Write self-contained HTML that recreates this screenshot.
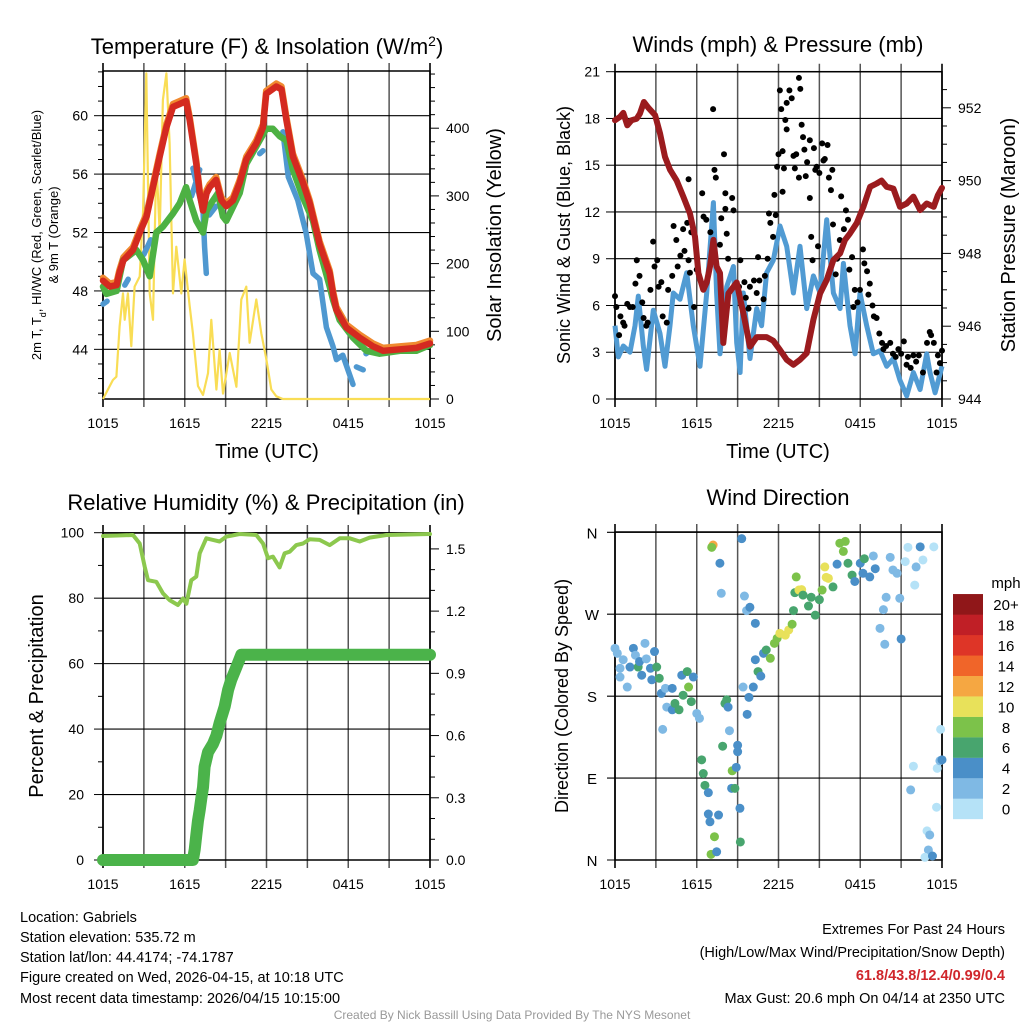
<!DOCTYPE html>
<html><head><meta charset="utf-8"><style>
html,body{margin:0;padding:0;background:#fff;}
svg{display:block;font-family:"Liberation Sans",Arial,sans-serif;}
</style></head><body>
<svg id="fig" width="1024" height="1024" viewBox="0 0 1024 1024" xmlns="http://www.w3.org/2000/svg">
<rect width="1024" height="1024" fill="#fff"/>
<g id="layer"></g>
<text x="267" y="54" font-size="22" text-anchor="middle">Temperature (F) &amp; Insolation (W/m<tspan baseline-shift="super" font-size="14">2</tspan>)</text>
<text x="778" y="52" font-size="22" text-anchor="middle">Winds (mph) &amp; Pressure (mb)</text>
<text x="266" y="510" font-size="22" text-anchor="middle">Relative Humidity (%) &amp; Precipitation (in)</text>
<text x="778" y="505" font-size="22" text-anchor="middle">Wind Direction</text>
<g font-size="13" text-anchor="middle">
<text transform="translate(41,235) rotate(-90)">2m T, T<tspan baseline-shift="sub" font-size="9">d</tspan>, HI/WC (Red, Green, Scarlet/Blue)</text>
<text transform="translate(58,235) rotate(-90)">&amp; 9m T (Orange)</text>
</g>
<text transform="translate(501,235) rotate(-90)" font-size="20" text-anchor="middle">Solar Insolation (Yellow)</text>
<text transform="translate(570,235) rotate(-90)" font-size="18" text-anchor="middle">Sonic Wind &amp; Gust (Blue, Black)</text>
<text transform="translate(1015,235) rotate(-90)" font-size="20" text-anchor="middle">Station Pressure (Maroon)</text>
<text transform="translate(43,696) rotate(-90)" font-size="20" text-anchor="middle">Percent &amp; Precipitation</text>
<text transform="translate(568,696) rotate(-90)" font-size="18" text-anchor="middle">Direction (Colored By Speed)</text>
<text x="267" y="458" font-size="20" text-anchor="middle">Time (UTC)</text>
<text x="778" y="458" font-size="20" text-anchor="middle">Time (UTC)</text>
<text x="1006" y="588" font-size="15" text-anchor="middle">mph</text>
<g font-size="14.5">
<text x="20" y="922">Location: Gabriels</text>
<text x="20" y="942">Station elevation: 535.72 m</text>
<text x="20" y="962">Station lat/lon: 44.4174; -74.1787</text>
<text x="20" y="982">Figure created on Wed, 2026-04-15, at 10:18 UTC</text>
<text x="20" y="1003">Most recent data timestamp: 2026/04/15 10:15:00</text>
</g>
<g font-size="14.5" text-anchor="end">
<text x="1005" y="934">Extremes For Past 24 Hours</text>
<text x="1005" y="957">(High/Low/Max Wind/Precipitation/Snow Depth)</text>
<text x="1005" y="980" fill="#d0262b" font-weight="bold">61.8/43.8/12.4/0.99/0.4</text>
<text x="1005" y="1003">Max Gust: 20.6 mph On 04/14 at 2350 UTC</text>
</g>
<text x="512" y="1019" font-size="12" fill="#999" text-anchor="middle">Created By Nick Bassill Using Data Provided By The NYS Mesonet</text>
</svg>
<script>
// ---------- data ----------
const xTickLabels = ["1015","1615","2215","0415","1015"];
const tempTicks = [44,48,52,56,60];
const solarTicks = [0,100,200,300,400];
const windTicks = [0,3,6,9,12,15,18,21];
const presTicks = [944,946,948,950,952];
const rhTicks = [0,20,40,60,80,100];
const precipTicks = ["0.0","0.3","0.6","0.9","1.2","1.5"];
const dirLabels = ["N","E","S","W","N"];
const speedBins = ["0","2","4","6","8","10","12","14","16","18","20+"];

const tempRedH = [0,0.5,1,1.2,1.5,2.2,2.7,3.2,3.67,4.16,4.65,5.14,5.63,6.1,6.36,6.85,7.1,7.34,7.6,7.83,8.3,8.69,9.05,9.54,10.03,10.52,11.25,11.74,11.98,12.72,13.1,13.46,13.94,14.68,15.17,15.9,16.64,16.88,17.13,17.86,18.84,19.82,20.56,21.8,23,24];
const tempRedV = [48.7,48.3,48.4,49.2,50.1,50.8,52,53.1,55.1,57.2,59.2,60.6,60.8,61,59.7,56.7,54.7,53.5,54.7,55.1,55.6,54.2,53.8,54.2,55.4,57,58.1,59.2,61.5,62,61.8,59.7,57.2,55.4,54,51.2,49.2,47.8,46.7,45.5,44.8,44.2,43.9,44.0,44.1,44.4];
const tempGreenH = [0,0.25,1,1.47,2.45,2.94,3.43,3.91,4.4,5.14,5.63,6.1,6.36,6.85,7.34,7.6,8.07,8.44,8.8,9.05,10.03,10.52,11.25,11.98,12.47,12.96,13.46,13.94,14.68,15.41,15.9,16.64,16.88,17.37,18.35,19.33,20.3,21.8,23,24];
const tempGreenV = [48.3,47.8,48.0,50.1,50.8,50.1,49.0,52.0,52.4,53.3,54.0,55.1,54.2,52.8,52.0,53.5,54.2,54.7,53.1,52.8,54.7,56.7,57.9,59.1,59.1,58.6,58.3,56.3,54.4,52.8,50.8,48.3,47.4,46.0,44.8,43.9,43.7,43.9,43.9,44.3];
const tempBlueH = [0,0.3,null,1,null,1.6,1.85,null,3,3.5,null,6.5,7.1,null,6.6,7.34,7.46,7.58,null,7.8,8.3,null,8.8,null,11.5,11.74,null,13.2,13.6,14.3,14.9,15.41,15.9,16.4,16.88,17.13,17.6,18.35,null,18.6,19.1,null,19.3,19.6,null];
const tempBlueV = [47.1,47.3,null,47.4,null,48.4,48.8,null,50.5,51.5,null,54.5,56.3,null,56.4,53.5,51,49.2,null,53.2,53.8,null,52,null,57.4,57.6,null,58.9,55.8,54.2,52,49.2,48.8,45.5,44.2,43.3,43.6,41.6,null,42.8,42.6,null,43.7,43.9,null];
const solarH = [0,0.73,0.98,1.22,1.47,1.59,1.83,2.08,2.32,2.69,2.94,3.18,3.43,3.67,3.91,4.16,4.4,4.65,4.89,5.14,5.38,5.75,5.99,6.36,6.6,6.97,7.34,7.71,7.95,8.32,8.56,8.81,9.3,9.79,10.15,10.52,10.76,11.25,11.62,11.98,12.35,12.72,13.2,13.7,24];
const solarV = [0,28,33,107,156,117,156,78,166,181,279,481,156,117,353,245,442,481,378,156,225,156,206,137,97,19,6,38,117,14,73,8,68,18,147,166,83,147,97,60,14,4,0,0,0];

const windH = [0,0.24,0.61,1.1,1.47,1.71,2.08,2.32,2.81,3.3,3.67,4.04,4.28,4.77,5.26,5.75,6.24,6.73,7.22,7.46,7.71,8.2,8.69,8.93,9.18,9.42,9.91,10.4,10.76,11.13,11.62,12.11,12.6,13.09,13.58,14.07,14.56,15.05,15.54,16.03,16.52,16.76,17.25,17.62,17.98,18.47,18.96,19.45,19.94,20.43,20.92,21.41,21.9,22.39,22.88,23.12,23.49,24];
const windV = [4.7,2.7,3.4,3.0,4.7,6.6,3.4,1.9,5.7,4.2,2.1,4.7,6.8,6.4,8.1,4.7,2.1,6.8,12.6,6.8,2.9,7.2,8.5,3.6,1.7,6.8,2.6,5.8,4.7,8.1,8.9,11.1,9.8,6.8,9.8,5.8,7.9,6.8,11.5,6.8,5.8,8.7,4.7,2.9,6.8,4.7,2.9,3.1,2.1,2.6,1.2,0.2,1.7,0.6,2.9,1.7,0.4,2.1];
const gustH = [0,0.1,0.4,0.3,0.6,0.7,0.9,1.1,1.3,1.5,1.6,1.8,2.0,2.1,2.3,2.4,2.6,2.8,2.9,3.1,3.2,3.4,3.5,3.8,3.9,4.2,4.3,4.5,4.6,4.8,5.0,5.1,5.3,5.4,5.5,5.6,5.4,5.8,6.0,6.4,6.5,6.7,7.0,7.2,7.3,7.4,7.7,7.8,8.0,8.1,8.1,8.2,8.3,8.6,8.7,9.1,9.2,9.5,9.6,9.8,9.9,10.2,10.4,10.5,10.6,10.9,11.0,11.2,11.3,11.4,11.6,11.7,11.8,11.9,12.0,12.1,12.2,12.3,12.3,12.4,12.5,12.6,12.6,12.8,12.97,13.1,13.2,13.3,13.5,13.5,13.6,13.7,13.8,13.9,14.0,14.1,14.3,14.3,14.4,14.5,14.6,14.7,14.8,14.9,15.0,15.2,15.3,15.4,15.6,15.7,15.85,15.95,16.0,16.2,16.3,16.5,16.6,16.8,16.95,17.1,17.2,17.4,17.5,17.6,17.8,17.98,18.2,18.3,18.5,18.6,18.7,18.9,19.0,19.2,19.4,19.6,19.7,19.9,20.2,20.4,20.6,20.8,21.0,21.2,21.4,21.5,21.7,21.9,22.1,22.3,22.6,22.9,23.1,23.2,23.4,23.6,23.7,23.85,24.0];
const gustV = [6.6,5.9,5.3,4.1,4.9,4.7,6.1,5.9,5.9,7.4,8.9,7.9,6.2,5.2,4.7,4.9,7.0,10.1,8.5,8.9,7.2,7.5,5.3,4.9,7.0,7.9,11.1,10.2,8.5,9.2,10.9,9.5,11.3,8.9,8.1,10.7,14.1,5.9,8.3,13.2,11.7,11.5,10.7,18.6,14.7,14.2,9.9,11.6,15.7,12.2,13.2,10.6,9.0,12.9,12.1,7.2,8.9,7.5,6.5,5.8,7.2,7.6,6.8,9.1,7.6,6.4,7.9,9.0,11.9,11.3,10.4,13.1,11.8,14.9,15.7,19.8,18.6,15.9,13.3,14.8,17.9,19.0,17.3,19.8,19.3,15.6,14.8,15.7,14.2,20.6,19.9,17.6,16.8,16.0,14.3,15.2,16.6,12.9,10.4,8.9,16.1,14.7,14.9,9.8,14.5,16.4,15.3,15.4,16.3,14.2,13.4,14.7,11.2,8.0,9.0,10.2,13.0,10.9,12.1,11.5,8.3,9.1,5.9,7.0,6.2,7.0,9.6,8.7,8.2,6.7,7.4,6.0,5.3,5.2,4.2,3.6,3.2,3.4,3.6,2.9,2.7,3.2,2.9,3.7,2.2,2.7,2.0,2.8,2.4,2.8,1.7,3.6,4.3,4.1,3.6,1.7,2.8,2.3,3.1];
const presH = [0,0.37,0.61,0.9,1.22,1.59,1.83,2.12,2.45,2.94,3.3,3.67,4.04,4.53,5.01,5.5,5.87,6.12,6.48,6.73,6.97,7.22,7.46,7.71,7.95,8.32,8.93,9.42,9.91,10.4,11.13,11.62,12.11,12.6,13.09,13.58,14.07,14.56,15.05,15.54,16.03,16.52,16.88,17.25,17.74,18.23,18.72,19.21,19.57,19.94,20.43,20.92,21.41,21.9,22.39,22.88,23.39,23.7,24];
const presV = [951.66,951.75,951.86,951.52,951.66,951.7,951.84,952.16,952.0,951.8,951.3,950.65,950.3,950.0,949.56,949.1,948.46,947.46,947.0,947.2,947.64,948.37,947.64,947.46,945.54,946.9,947.2,946.36,945.44,945.7,945.7,945.6,945.35,945.08,944.94,945.08,945.26,946.18,946.9,947.27,947.82,948.0,948.37,948.55,948.83,949.28,949.83,949.92,950.0,949.83,949.78,949.28,949.37,949.56,949.19,949.37,949.28,949.6,949.8];

const rhH = [0,2.2,2.69,3.06,3.3,3.91,4.4,4.89,5.5,5.87,6.12,6.48,6.85,7.1,7.58,8.07,8.56,9.05,10.03,11.25,11.74,12.11,12.47,12.96,13.33,13.7,14.19,14.68,15.17,15.9,16.64,17.37,18.11,18.84,19.57,20.8,24];
const rhV = [99,99.3,96.7,89.6,85.5,85,81.5,79.4,77.9,79.9,78.3,85.5,86.6,93.7,98.3,97.8,97.3,98.8,99.6,99.3,96.7,92.2,92.7,89.4,93.7,94.2,96.2,96.7,98,97.8,96.2,98.3,98.3,97.3,98.5,99.3,99.6];
const precipH = [0,6.6,6.73,6.85,6.97,7.1,7.22,7.34,7.46,7.71,8.07,8.32,8.56,8.93,9.18,9.42,9.79,10.15,24];
const precipV = [0,0,0.05,0.12,0.19,0.24,0.3,0.35,0.45,0.52,0.56,0.6,0.66,0.74,0.82,0.87,0.93,0.99,0.99];

const dirH = [0,0.17,0.37,0.37,0.6,0.9,1.1,1.35,1.5,1.7,1.96,1.8,2.2,2.3,2.6,2.7,2.9,3.06,3.25,3.4,3.7,4.2,3.8,4.2,4.4,4.7,5.0,4.9,5.3,5.4,5.6,5.75,6.0,6.2,3.5,6.36,6.48,6.6,6.85,6.85,6.97,7.6,7.3,7.05,7.46,7.2,7.1,7.7,7.8,7.9,8.07,8.2,8.3,8.4,8.6,8.56,8.8,8.9,9.0,9.0,9.17,9.2,9.3,9.4,9.5,9.66,9.9,10.3,9.83,9.7,10.15,10.3,10.5,10.7,10.9,11.1,11.4,11.7,11.9,12.1,12.5,12.75,13.0,13.1,13.2,13.5,13.7,13.3,13.8,14.2,14.4,14.7,15.0,15.2,15.4,15.5,15.66,16,16.3,16.5,16.76,16.9,17.1,17.4,17.6,18.0,18.2,18.3,18.7,18.96,19.1,19.9,19.7,19.45,19.8,20.2,20.4,20.7,20.9,21.0,21.3,21.5,22.0,22.1,22.4,22.6,23.4,21.9,21.7,22.9,23.1,23.0,22.75,23.3,23.6,23.65,23.85,23.9,24.0];
const dirDeg = [232.5,227,210.6,201,220,190,212,232.5,225,212,203,218,238,221,210.6,198,229,212,199.6,183,188.6,188.6,168,165,172,165,181,203,207,190,174,201,161,155.6,143.5,110,95,82,74,50.5,42,49.4,25.6,6.2,9,346,343.5,326,293,125,172,176,168,142,98,78.7,78.7,101.8,126,119,56.8,19.8,353,190,290,274,277.6,260,178.7,160,190,220,207,202,227,230.7,221.6,238,243.5,249,247,252.7,259,274,293.7,296.6,297,311,291,279,288.6,269,286,296.6,322,310.5,309.4,300,325,348,339,350,326,313,306,326,315,331,311,334,320,288.6,275,254.5,237,332.5,318.6,315,287.5,242.8,327.8,343.5,302,322,344,329.6,344,103,77,32,27.5,11,3,4.4,58,100.7,109,143.5,110];
const dirSpd = [3,3,2,2,3,2,4,4,2,6,4,4,2,2,4,5,4,6,6,4,2,4,2,4,6,6,6,5,6,8,6,4,3,2,2,6,6,6,4,4,4,4,8,8,4,12,8,4,2,6,6,6,4,2,8,4,6,4,4,4,4,6,4,2,2,2,4,4,4,4,4,4,6,4,4,6,8,8,8,10,10,10,8,6,6,10,10,8,6,6,6,6,6,8,10,10,10,6,4,8,8,8,6,6,4,4,4,6,4,2,4,2,2,2,2,2,2,2,2,4,0,0,0,2,4,0,0,0,2,0,2,2,0,4,0,0,2,0,4];

// ---------- helpers ----------
const NS = "http://www.w3.org/2000/svg";
const layer = document.getElementById("layer");
function mk(tag, attrs, parent){ const e=document.createElementNS(NS,tag); for(const k in attrs) e.setAttribute(k,attrs[k]); (parent||layer).appendChild(e); return e; }
const PX = h => h*13.625;
const xL = h => 103 + PX(h);
const xR = h => 615 + PX(h);
const yT = t => 399 - (t-40.6)/(63.06-40.6)*328;
const yS = s => 399 - s*0.677;
const yW = v => 399 - v*(327.3/21);
const yP = p => 399 - (p-944)*36.4;
const yH = r => 860 - r*3.273;
const yQ = q => 860 - q*207.4;
const yD = d => 860 - d*(327.7/360);
const speedColors = ["#b5e2f7","#7fb9e4","#4a8fc8","#48a56e","#7cc24a","#e8e15a","#f5a742","#f06529","#de3527","#c01f26","#901719"];
function colorFor(s){ return speedColors[Math.min(10,Math.floor(s/2))]; }

function pathFrom(H,V,fx,fy){
  let d="", pen=false;
  for(let i=0;i<H.length;i++){
    if(H[i]===null||V[i]===null){pen=false;continue;}
    d += (pen?"L":"M") + fx(H[i]).toFixed(1)+","+fy(V[i]).toFixed(1)+" ";
    pen=true;
  }
  return d;
}

function panel(name, x0, y0, y1){
  const g = mk("g",{});
  
  
  for(let i=0;i<=8;i++){
    const x = x0 + i*327/8;
    const l = mk("line",{x1:x,x2:x,y1:y0-8,y2:y1+8,stroke:(i===0||i===8)?"#000":"#555","stroke-width":i===0||i===8?1.6:1.5},g);
    
    
  }
  for(let i=0;i<5;i++){
    const t = mk("text",{x:x0+i*327/4,y:y1+29,"font-size":14,"text-anchor":"middle"},g);
    
    
    t.textContent = xTickLabels[i];
  }
  return g;
}
function ytick(g, x, y, len, lab, anchor, lx, size){
  const l = mk("line",{x1:x,x2:x+len,y1:y,y2:y,stroke:"#000","stroke-width":1},g);
  
  
  if(lab!==null){
    const t = mk("text",{x:lx,y:y+5,"font-size":size||14,"text-anchor":anchor},g);
    
    
    t.textContent = lab;
  }
}

// ---------- Panel 1: temperature ----------
(function(){
  const g = panel("temp",103,71,399);
  for(const t of tempTicks){ mk("line",{x1:103,x2:430,y1:yT(t),y2:yT(t),stroke:"#000","stroke-width":1.1},g); ytick(g,103,yT(t),-9,String(t),"end",88); }
  for(let t=41;t<=63;t++){ if(t%4) ytick(g,103,yT(t),-5,null); }
  for(const s of solarTicks){ ytick(g,430,yS(s),9,String(s),"start",446); }
  for(let s=20;s<=480;s+=20){ if(s%100) ytick(g,430,yS(s),5,null); }
  mk("rect",{x:103,y:71,width:327,height:328,fill:"none",stroke:"#000","stroke-width":1.5},g);
  const ys = mk("path",{d:pathFrom(solarH,solarV,xL,yS),fill:"none",stroke:"#f9dd55","stroke-width":2.2,"stroke-linejoin":"round"});
  
  
  const yo = mk("path",{d:pathFrom(tempRedH,tempRedV.map(v=>v+0.2),xL,yT),fill:"none",stroke:"#f08a30","stroke-width":6.5,"stroke-linejoin":"round","stroke-linecap":"round"});
  
  
  const yb = mk("path",{d:pathFrom(tempBlueH,tempBlueV,xL,yT),fill:"none",stroke:"#4f98d0","stroke-width":5.5,"stroke-linejoin":"round","stroke-linecap":"round"});
  
  
  const yg = mk("path",{d:pathFrom(tempGreenH,tempGreenV,xL,yT),fill:"none",stroke:"#4db143","stroke-width":6.5,"stroke-linejoin":"round","stroke-linecap":"round"});
  
  
  const yr = mk("path",{d:pathFrom(tempRedH,tempRedV,xL,yT),fill:"none",stroke:"#d42a20","stroke-width":6.5,"stroke-linejoin":"round","stroke-linecap":"round"});
  
  
})();

// ---------- Panel 2: wind ----------
(function(){
  const g = panel("wind",615,71.7,399);
  for(const v of windTicks){ mk("line",{x1:615,x2:942,y1:yW(v),y2:yW(v),stroke:"#000","stroke-width":1.1},g); ytick(g,615,yW(v),-9,String(v),"end",600); }
  for(const p of presTicks){ ytick(g,942,yP(p),9,String(p),"start",958); }
  for(let p=944.5;p<953;p+=0.5){ if(p%2) ytick(g,942,yP(p),5,null); }
  mk("rect",{x:615,y:71.7,width:327,height:327.3,fill:"none",stroke:"#000","stroke-width":1.5},g);
  const wl = mk("path",{d:pathFrom(windH,windV,xR,yW),fill:"none",stroke:"#519bd3","stroke-width":5,"stroke-linejoin":"round"});
  
  
  const gg = mk("g",{});
  
  
  for(let i=0;i<gustH.length;i++){
    const c = mk("circle",{cx:xR(gustH[i]),cy:yW(gustV[i]),r:3,fill:"#000"},gg);
    
    
  }
  const pl = mk("path",{d:pathFrom(presH,presV,xR,yP),fill:"none",stroke:"#9b1b1e","stroke-width":6,"stroke-linejoin":"round","stroke-linecap":"round"});
  
  
})();

// ---------- Panel 3: RH & precip ----------
(function(){
  const g = panel("rh",103,533,860);
  for(const r of rhTicks){ mk("line",{x1:103,x2:430,y1:yH(r),y2:yH(r),stroke:"#000","stroke-width":1.1},g); ytick(g,103,yH(r),-9,String(r),"end",84); }
  for(let r=10;r<100;r+=20) ytick(g,103,yH(r),-5,null);
  precipTicks.forEach(q=>ytick(g,430,yQ(+q),9,q,"start",446));
  for(let k=1;k<=15;k++){ if(k%3) ytick(g,430,yQ(k/10),5,null); }
  mk("rect",{x:103,y:533,width:327,height:327,fill:"none",stroke:"#000","stroke-width":1.5},g);
  const rl = mk("path",{d:pathFrom(rhH,rhV,xL,yH),fill:"none",stroke:"#8cc84e","stroke-width":4,"stroke-linejoin":"round","stroke-linecap":"round"});
  
  
  const ql = mk("path",{d:pathFrom(precipH,precipV,xL,yQ),fill:"none",stroke:"#4bb34a","stroke-width":12,"stroke-linejoin":"round","stroke-linecap":"round"});
  
  
})();

// ---------- Panel 4: wind direction ----------
(function(){
  const g = panel("dir",615,532,860);
  const degs=[0,90,180,270,360];
  degs.forEach((d,i)=>{ mk("line",{x1:607,x2:942,y1:yD(d),y2:yD(d),stroke:"#000","stroke-width":1.1},g); const t=mk("text",{x:592,y:yD(d)+6,"font-size":15,"text-anchor":"middle"},g);   t.textContent=dirLabels[i]; });
  mk("rect",{x:615,y:532,width:327,height:328,fill:"none",stroke:"#000","stroke-width":1.5},g);
  const pg = mk("g",{});
  
  
  for(let i=0;i<dirH.length;i++){
    const c = mk("circle",{cx:xR(dirH[i]),cy:yD(dirDeg[i]),r:4.5,fill:colorFor(dirSpd[i])},pg);
    
    
  }
  const cb = mk("g",{});
  
  
  for(let i=0;i<11;i++){
    const yy = 819 - (i+1)*20.45;
    const r = mk("rect",{x:953,y:yy,width:30,height:20.6,fill:speedColors[i]},cb);
    
    
    const t = mk("text",{x:1006,y:yy+16,"font-size":15,"text-anchor":"middle"},cb);
    
    
    t.textContent = speedBins[i];
  }
})();
</script>
</body></html>
